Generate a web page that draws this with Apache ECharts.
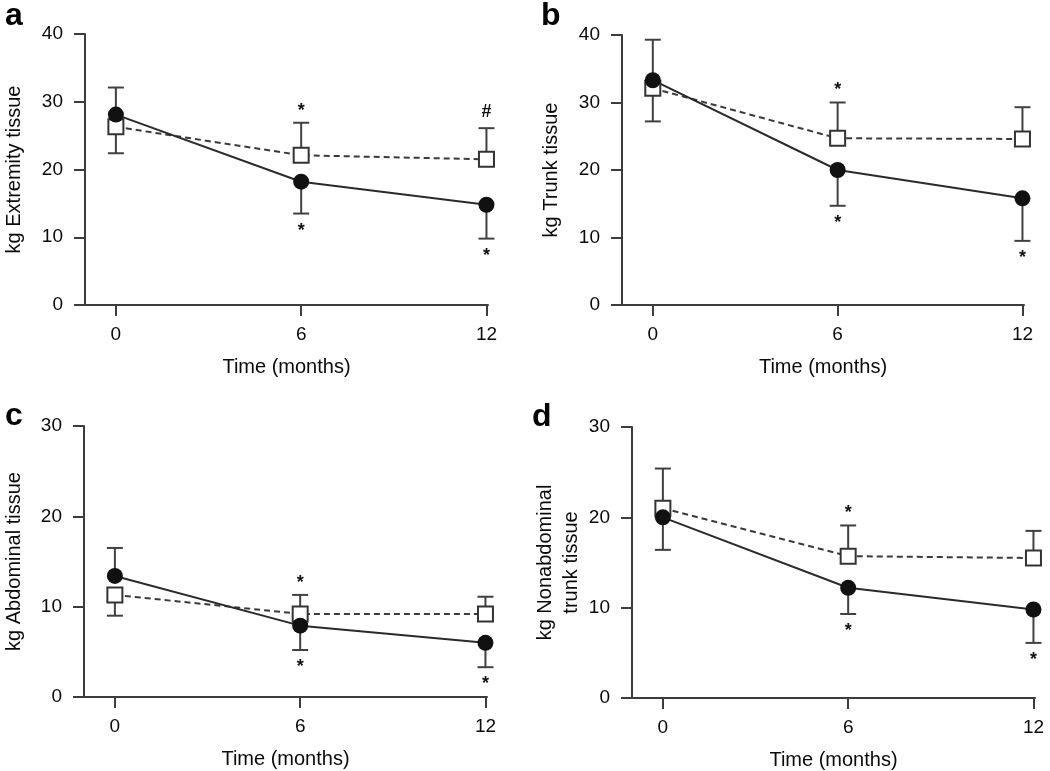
<!DOCTYPE html>
<html>
<head>
<meta charset="utf-8">
<script src="https://cdn.jsdelivr.net/npm/echarts@6/dist/echarts.min.js"></script>
<style>
html,body{margin:0;padding:0;background:#fff;}
#chart{width:1050px;height:771px;}
</style>
</head>
<body>
<div id="chart"></div>
<script>
// ---- data ----
const months = [0, 6, 12];
const xTicks = [0, 6, 12];

const aCircle = [28.1, 18.2, 14.8];
const aCircleErr = [32.1, 13.5, 9.8];
const aSquare = [26.3, 22.1, 21.5];
const aSquareErr = [22.4, 26.9, 26.1];
const aSigUp = ['', '*', '#'];
const aSigDown = ['', '*', '*'];

const bCircle = [33.3, 20.0, 15.8];
const bCircleErr = [39.3, 14.7, 9.5];
const bSquare = [32.1, 24.7, 24.6];
const bSquareErr = [27.2, 30.0, 29.3];
const bSigUp = ['', '*', ''];
const bSigDown = ['', '*', '*'];

const cCircle = [13.4, 7.9, 6.0];
const cCircleErr = [16.5, 5.2, 3.3];
const cSquare = [11.3, 9.2, 9.2];
const cSquareErr = [9.0, 11.3, 11.1];
const cSigUp = ['', '*', ''];
const cSigDown = ['', '*', '*'];

const dCircle = [20.0, 12.2, 9.8];
const dCircleErr = [16.4, 9.3, 6.1];
const dSquare = [21.0, 15.7, 15.5];
const dSquareErr = [25.4, 19.1, 18.5];
const dSigUp = ['', '*', ''];
const dSigDown = ['', '*', '*'];

const yMaxes = [40, 40, 30, 30];
const yTitles = ['kg Extremity tissue', 'kg Trunk tissue', 'kg Abdominal tissue', 'kg Nonabdominal\ntrunk tissue'];
const xTitle = 'Time (months)';
const panelLetters = ['a', 'b', 'c', 'd'];

// ---- layout ----
const FONT = '"Liberation Sans", Arial, Helvetica, sans-serif';
const AX = '#3c3c3c';
const TXT = '#0a0a0a';
const grids = [
  {left: 84, top: 34, width: 404, height: 271},
  {left: 622, top: 35, width: 402, height: 270},
  {left: 83, top: 426, width: 404, height: 271},
  {left: 632, top: 427, width: 403, height: 271}
];
const yNameGaps = [58, 58, 57, 42];
const letterPos = [[5, 26], [541, 26], [5, 426], [532, 427]];

const panels = [
  {c: aCircle, ce: aCircleErr, s: aSquare, se: aSquareErr, up: aSigUp, dn: aSigDown},
  {c: bCircle, ce: bCircleErr, s: bSquare, se: bSquareErr, up: bSigUp, dn: bSigDown},
  {c: cCircle, ce: cCircleErr, s: cSquare, se: cSquareErr, up: cSigUp, dn: cSigDown},
  {c: dCircle, ce: dCircleErr, s: dSquare, se: dSquareErr, up: dSigUp, dn: dSigDown}
];

const xAxes = [], yAxes = [], series = [];

function errRender(params, api) {
  const x = api.value(0);
  const p0 = api.coord([x, api.value(1)]);
  const p1 = api.coord([x, api.value(2)]);
  const st = {stroke: '#404040', lineWidth: 2};
  return {
    type: 'group',
    children: [
      {type: 'line', shape: {x1: p0[0], y1: p0[1], x2: p1[0], y2: p1[1]}, style: st},
      {type: 'line', shape: {x1: p1[0] - 8, y1: p1[1], x2: p1[0] + 8, y2: p1[1]}, style: st}
    ]
  };
}

function makeSigRender(texts) {
  return function (params, api) {
    const x = api.value(0);
    const p = api.coord([x, api.value(1)]);
    const dir = api.value(2);
    const txt = texts[params.dataIndex];
    const isHash = txt === '#';
    let dy;
    if (isHash) dy = dir > 0 ? -16 : 16;
    else dy = dir > 0 ? -12 : 17;
    return {
      type: 'text',
      x: p[0],
      y: p[1] + dy,
      style: {
        text: txt,
        fill: '#111',
        font: 'bold 18px ' + FONT,
        align: 'center',
        verticalAlign: 'middle'
      }
    };
  };
}

panels.forEach((p, i) => {
  xAxes.push({
    type: 'value', gridIndex: i, min: -1, max: 12.05,
    name: xTitle, nameLocation: 'middle', nameGap: 52,
    nameTextStyle: {fontFamily: FONT, fontSize: 20, color: TXT},
    axisLine: {show: true, onZero: false, lineStyle: {color: AX, width: 2}},
    axisTick: {show: true, customValues: xTicks, length: 11, lineStyle: {color: AX, width: 2}},
    axisLabel: {customValues: xTicks, margin: 20, fontFamily: FONT, fontSize: 19, color: TXT},
    splitLine: {show: false}
  });
  yAxes.push({
    type: 'value', gridIndex: i, min: 0, max: yMaxes[i], interval: 10,
    name: yTitles[i], nameLocation: 'middle', nameGap: yNameGaps[i], nameRotate: 90,
    nameTextStyle: {fontFamily: FONT, fontSize: 20, color: TXT, lineHeight: 26},
    axisLine: {show: true, onZero: false, lineStyle: {color: AX, width: 2}},
    axisTick: {show: true, length: 11, lineStyle: {color: AX, width: 2}},
    axisLabel: {margin: 22, fontFamily: FONT, fontSize: 19, color: TXT},
    splitLine: {show: false}
  });
  const errData = [];
  months.forEach((m, k) => {
    errData.push([m, p.s[k], p.se[k]]);
    errData.push([m, p.c[k], p.ce[k]]);
  });
  series.push({
    type: 'custom', xAxisIndex: i, yAxisIndex: i, renderItem: errRender,
    data: errData, z: 1, silent: true
  });
  series.push({
    type: 'line', xAxisIndex: i, yAxisIndex: i,
    data: months.map((m, k) => [m, p.s[k]]),
    symbol: 'rect', symbolSize: 15, showAllSymbol: true,
    lineStyle: {color: '#3a3a3a', width: 2, type: [6, 4]},
    itemStyle: {color: '#fff', borderColor: '#333', borderWidth: 2},
    z: 3, clip: false, animation: false
  });
  series.push({
    type: 'line', xAxisIndex: i, yAxisIndex: i,
    data: months.map((m, k) => [m, p.c[k]]),
    symbol: 'circle', symbolSize: 16, showAllSymbol: true,
    lineStyle: {color: '#2a2a2a', width: 2},
    itemStyle: {color: '#111', borderColor: '#111', borderWidth: 0},
    z: 4, clip: false, animation: false
  });
  const sig = [], sigTexts = [];
  months.forEach((m, k) => {
    const hi = Math.max(p.c[k], p.ce[k], p.s[k], p.se[k]);
    const lo = Math.min(p.c[k], p.ce[k], p.s[k], p.se[k]);
    if (p.up[k]) { sig.push([m, hi, 1]); sigTexts.push(p.up[k]); }
    if (p.dn[k]) { sig.push([m, lo, -1]); sigTexts.push(p.dn[k]); }
  });
  series.push({
    type: 'custom', xAxisIndex: i, yAxisIndex: i, renderItem: makeSigRender(sigTexts),
    data: sig, z: 5, silent: true, clip: false
  });
});

const graphic = panelLetters.map((t, i) => ({
  type: 'text', left: letterPos[i][0], top: letterPos[i][1] - 26,
  style: {text: t, font: 'bold 32px ' + FONT, fill: '#000'}
}));

const chart = echarts.init(document.getElementById('chart'), null, {renderer: 'canvas'});
chart.setOption({
  animation: false,
  backgroundColor: '#fff',
  grid: grids,
  xAxis: xAxes,
  yAxis: yAxes,
  series: series,
  graphic: graphic
});
</script>
</body>
</html>
